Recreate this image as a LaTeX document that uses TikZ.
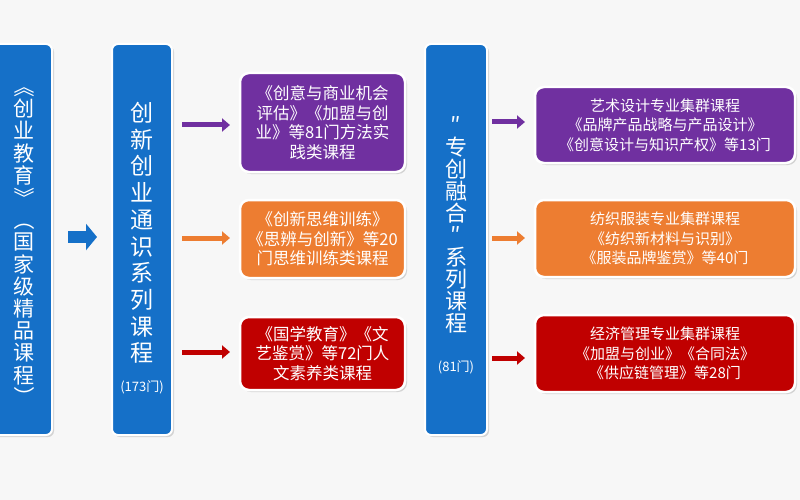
\documentclass[tikz,border=0pt]{standalone}
\usepackage{fontspec}
\setmainfont{Noto Sans CJK SC}
\usetikzlibrary{shadows,arrows.meta}
\definecolor{cblue}{HTML}{1570C8}
\definecolor{cpur}{HTML}{7030A0}
\definecolor{corg}{HTML}{ED7D31}
\definecolor{cred}{HTML}{C00000}
\newcommand{\vb}[1]{\rotatebox[origin=c]{-90}{#1}}
\tikzset{
 col/.style={fill=cblue,draw=white,line width=2pt,rounded corners=6pt,drop shadow={opacity=0.3,shadow xshift=2pt,shadow yshift=-2pt}},
 cbox/.style={fill=#1,draw=white,line width=2.5pt,rounded corners=9pt,drop shadow={opacity=0.3,shadow xshift=2pt,shadow yshift=-2pt},text=white,align=center,font=\fontsize{16.5}{19.5}\selectfont,inner sep=2pt},
 arr/.style={draw=#1,line width=5pt,-{Triangle[length=8pt,width=13pt]}},
 vt/.style={text=white,align=center,inner sep=0pt}
}
\begin{document}
\begin{tikzpicture}[x=1pt,y=-1pt]
\fill[white!94!gray] (0,0) rectangle (800,500);
\useasboundingbox (0,0) rectangle (800,500);
% columns
\path[col] (-10,44) rectangle (52,435);
\path[col] (112,44) rectangle (172,435);
\path[col] (425,44) rectangle (487,435);
\node[vt,font=\fontsize{21}{22.2}\selectfont] (c1) at (24,242) {\vb{《}\\创\\业\\教\\育\\\vb{》}\\\vb{（}\\国\\家\\级\\精\\品\\课\\程\\\vb{）}};
\node[vt,font=\fontsize{23}{26.7}\selectfont] (c2) at (142,233) {创\\新\\创\\业\\通\\识\\系\\列\\课\\程};
\node[vt,font=\fontsize{13}{15}\selectfont] (c2b) at (142,387) {(173门)};
\node[vt,font=\fontsize{22}{22}\selectfont] (c3) at (456,225) {″\\专\\创\\融\\合\\″\\系\\列\\课\\程};
\node[vt,font=\fontsize{13}{15}\selectfont] (c3b) at (456,367) {(81门)};
% boxes
\node[cbox=cpur,minimum width=165,minimum height=99] (b1) at (322.5,122.5) {《创意与商业机会\\评估》《加盟与创\\业》等81门方法实\\践类课程};
\node[cbox=corg,minimum width=165,minimum height=78] (b2) at (322.5,239) {《创新思维训练》\\《思辨与创新》等20\\门思维训练类课程};
\node[cbox=cred,minimum width=165,minimum height=73] (b3) at (322.5,353.5) {《国学教育》《文\\艺鉴赏》等72门人\\文素养类课程};
\node[cbox=cpur,minimum width=260,minimum height=76,font=\fontsize{15}{19.5}\selectfont] (r1) at (665,125) {艺术设计专业集群课程\\《品牌产品战略与产品设计》\\《创意设计与知识产权》等13门};
\node[cbox=corg,minimum width=260,minimum height=77,font=\fontsize{15}{19.5}\selectfont] (r2) at (665,238.5) {纺织服装专业集群课程\\《纺织新材料与识别》\\《服装品牌鉴赏》等40门};
\node[cbox=cred,minimum width=260,minimum height=77,font=\fontsize{15}{19.5}\selectfont] (r3) at (665,353.5) {经济管理专业集群课程\\《加盟与创业》《合同法》\\《供应链管理》等28门};
% arrows
\coordinate (a0) at (68,237);
\coordinate (a1) at (97,237);
\draw[draw=cblue,line width=12pt,-{Triangle[length=11pt,width=26pt]}] (a0) -- (a1);
\coordinate (l1) at (182,125); \coordinate (m1) at (230,125);
\coordinate (l2) at (182,238); \coordinate (m2) at (230,238);
\coordinate (l3) at (182,352); \coordinate (m3) at (230,352);
\draw[arr=cpur] (l1) -- (m1);
\draw[arr=corg] (l2) -- (m2);
\draw[arr=cred] (l3) -- (m3);
\coordinate (p1) at (492,122); \coordinate (q1) at (525,122);
\coordinate (p2) at (492,238); \coordinate (q2) at (525,238);
\coordinate (p3) at (492,358); \coordinate (q3) at (525,358);
\draw[arr=cpur] (p1) -- (q1);
\draw[arr=corg] (p2) -- (q2);
\draw[arr=cred] (p3) -- (q3);
\end{tikzpicture}
\end{document}
